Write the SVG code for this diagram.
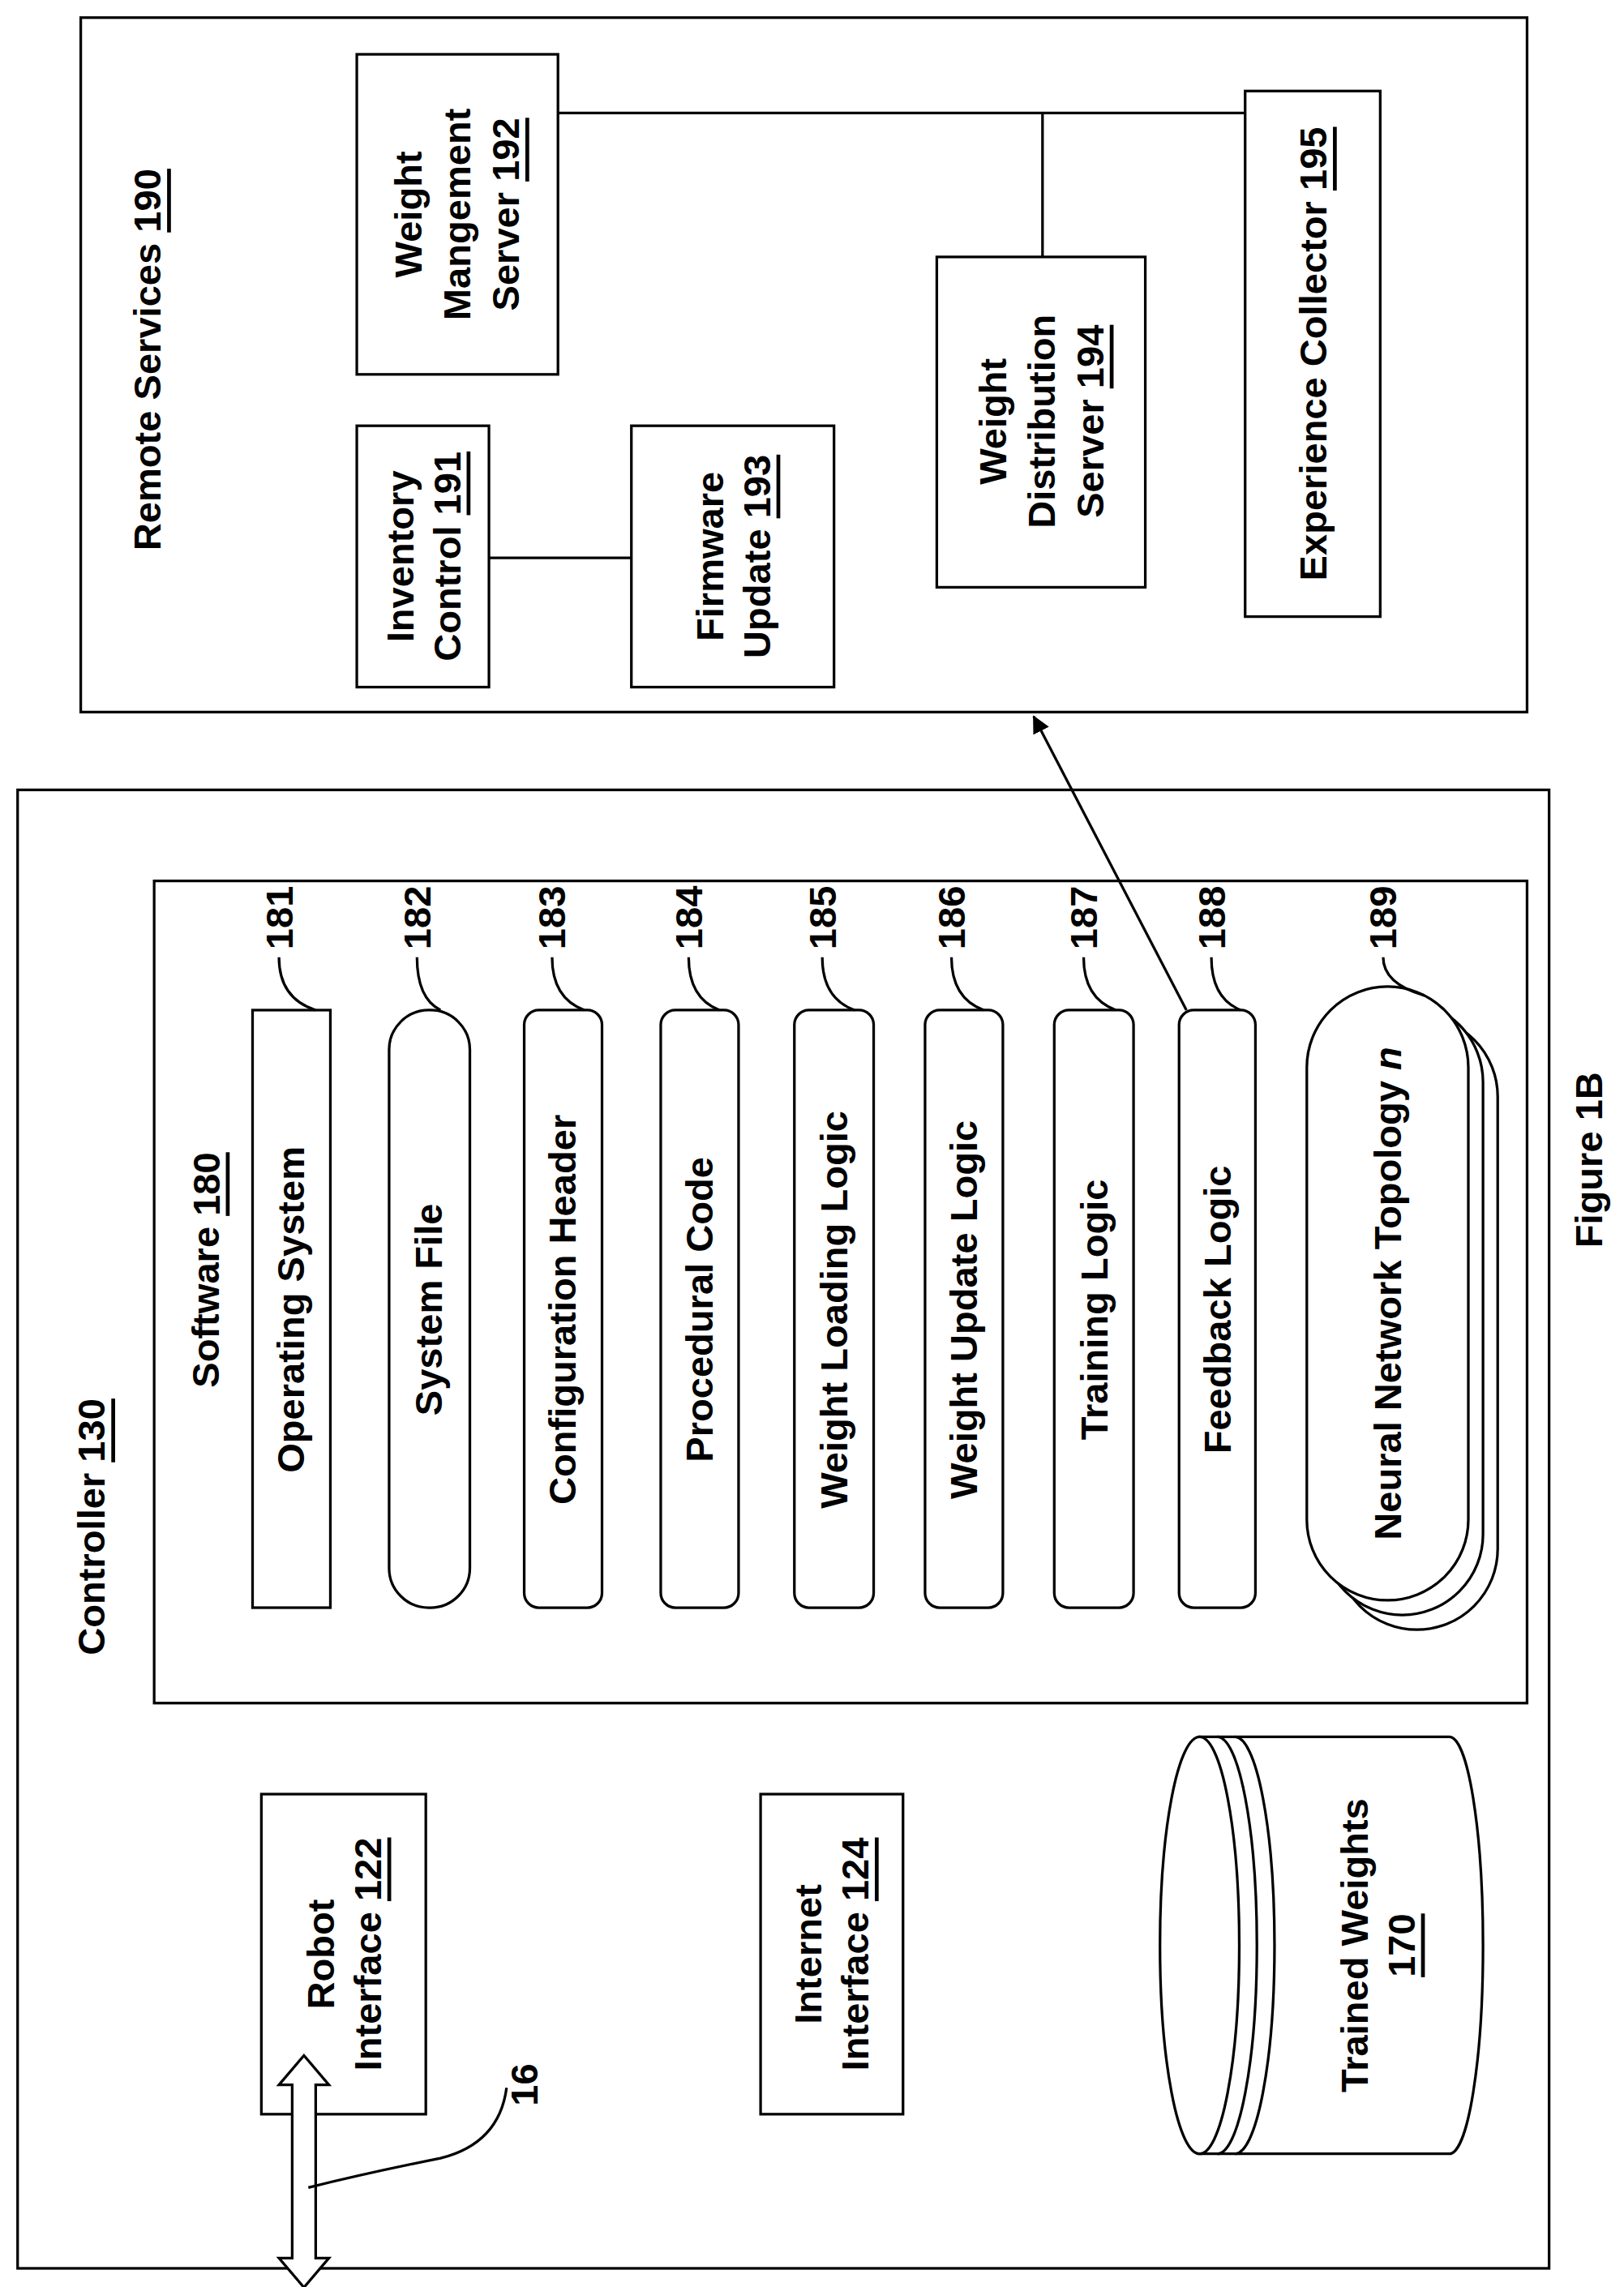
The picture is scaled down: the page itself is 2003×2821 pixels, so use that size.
<svg xmlns="http://www.w3.org/2000/svg" width="2003" height="2821" viewBox="0 0 2003 2821">
<style>
.b{fill:#fff;stroke:#000;stroke-width:1.8}
.l{fill:none;stroke:#000;stroke-width:1.8}
text{font-family:"Liberation Sans",Arial,sans-serif;font-size:26px;font-weight:bold;fill:#000;text-anchor:middle;dominant-baseline:central}
.u{text-decoration:underline}
</style>
<defs><marker id="ah" markerWidth="12" markerHeight="12" refX="11" refY="6" orient="auto" markerUnits="userSpaceOnUse"><path d="M0,0 L12,6 L0,12 Z"/></marker></defs>
<rect width="2003" height="2821" fill="#fff"/>
<g transform="scale(1.811)">
<g id="remote"><rect class="b" x="55" y="12" width="985" height="473"/>
<text transform="translate(100,245) rotate(-90)">Remote Services <tspan class="u">190</tspan></text></g>
<g id="n192"><rect class="b" x="243" y="37" width="137" height="218"/>
<text transform="translate(311,146) rotate(-90)"><tspan x="0" dy="-33">Weight</tspan><tspan x="0" dy="33">Mangement</tspan><tspan x="0" dy="33">Server <tspan class="u">192</tspan></tspan></text></g>
<g id="n191"><rect class="b" x="243" y="290" width="90" height="178"/>
<text transform="translate(288,379) rotate(-90)"><tspan x="0" dy="-16">Inventory</tspan><tspan x="0" dy="32">Control <tspan class="u">191</tspan></tspan></text></g>
<g id="n193"><rect class="b" x="430" y="290" width="138" height="178"/>
<text transform="translate(499,379) rotate(-90)"><tspan x="0" dy="-16">Firmware</tspan><tspan x="0" dy="32">Update <tspan class="u">193</tspan></tspan></text></g>
<g id="n194"><rect class="b" x="638" y="175" width="142" height="225"/>
<text transform="translate(709,287) rotate(-90)"><tspan x="0" dy="-33">Weight</tspan><tspan x="0" dy="33">Distribution</tspan><tspan x="0" dy="33">Server <tspan class="u">194</tspan></tspan></text></g>
<g id="n195"><rect class="b" x="848" y="62" width="92" height="358"/>
<text transform="translate(894,241) rotate(-90)">Experience Collector <tspan class="u">195</tspan></text></g>
<g id="controller"><rect class="b" x="12" y="538" width="1043" height="1007"/>
<text transform="translate(62,1040) rotate(-90)">Controller <tspan class="u">130</tspan></text></g>
<g id="software"><rect class="b" x="105" y="600" width="935" height="560"/>
<text transform="translate(140,865) rotate(-90)">Software <tspan class="u">180</tspan></text></g>
<g id="n181"><rect class="b" x="172" y="688" width="53" height="407"/><text transform="translate(198,892) rotate(-90)">Operating System</text></g>
<g id="n182"><rect class="b" x="265" y="688" width="55" height="407" rx="27"/><text transform="translate(292,892) rotate(-90)">System File</text></g>
<g id="n183"><rect class="b" x="357" y="688" width="53" height="407" rx="10"/><text transform="translate(383,892) rotate(-90)">Configuration Header</text></g>
<g id="n184"><rect class="b" x="450" y="688" width="53" height="407" rx="10"/><text transform="translate(476,892) rotate(-90)">Procedural Code</text></g>
<g id="n185"><rect class="b" x="541" y="688" width="54" height="407" rx="10"/><text transform="translate(568,892) rotate(-90)">Weight Loading Logic</text></g>
<g id="n186"><rect class="b" x="630" y="688" width="53" height="407" rx="10"/><text transform="translate(656,892) rotate(-90)">Weight Update Logic</text></g>
<g id="n187"><rect class="b" x="718" y="688" width="54" height="407" rx="10"/><text transform="translate(745,892) rotate(-90)">Training Logic</text></g>
<g id="n188"><rect class="b" x="803" y="688" width="52" height="407" rx="10"/><text transform="translate(829,892) rotate(-90)">Feedback Logic</text></g>
<g id="n189"><rect class="b" x="910" y="692" width="110" height="418" rx="55"/><rect class="b" x="900" y="682" width="110" height="418" rx="55"/><rect class="b" x="890" y="672" width="110" height="418" rx="55"/>
<text transform="translate(945,881) rotate(-90)">Neural Network Topology <tspan font-style="italic">n</tspan></text></g>
<g id="refs">
<text transform="translate(190,625) rotate(-90)">181</text><text transform="translate(284,625) rotate(-90)">182</text><text transform="translate(376,625) rotate(-90)">183</text><text transform="translate(469,625) rotate(-90)">184</text><text transform="translate(560,625) rotate(-90)">185</text><text transform="translate(648,625) rotate(-90)">186</text><text transform="translate(738,625) rotate(-90)">187</text><text transform="translate(825,625) rotate(-90)">188</text><text transform="translate(942,625) rotate(-90)">189</text>
<path class="l" d="M190,652 Q190,680 215,688 M284,652 Q284,680 300,688 M376,652 Q376,680 398,688 M469,652 Q469,680 490,688 M560,652 Q560,680 582,688 M648,652 Q648,680 670,688 M738,652 Q738,680 760,688 M825,652 Q825,680 845,688 M942,652 Q942,670 970,678"/>
</g>
<g id="n122"><rect class="b" x="178" y="1222" width="112" height="218"/>
<text transform="translate(234,1331) rotate(-90)"><tspan x="0" dy="-16">Robot</tspan><tspan x="0" dy="32">Interface <tspan class="u">122</tspan></tspan></text></g>
<g id="n124"><rect class="b" x="518" y="1222" width="97" height="218"/>
<text transform="translate(566,1331) rotate(-90)"><tspan x="0" dy="-16">Internet</tspan><tspan x="0" dy="32">Interface <tspan class="u">124</tspan></tspan></text></g>
<g id="n170">
<path class="b" d="M817,1183 L987,1183 A23,142 0 0 1 987,1467 L817,1467 Z"/>
<path class="l" d="M841,1183 A27,142 0 0 1 841,1467 M829,1183 A27,142 0 0 1 829,1467"/>
<ellipse class="b" cx="817" cy="1325" rx="27" ry="142"/>
<text transform="translate(938,1325) rotate(-90)" font-size="25"><tspan x="0" dy="-16">Trained Weights</tspan><tspan x="0" dy="32" class="u">170</tspan></text></g>
<g id="port16"><path class="b" d="M190,1420 L207,1400 L224,1420 L215,1420 L215,1538 L224,1538 L207,1558 L190,1538 L199,1538 L199,1420 Z"/>
<text transform="translate(357,1420) rotate(-90)">16</text>
<path class="l" d="M345,1422 Q340,1460 300,1470 Q250,1480 210,1490"/></g>
<g id="connectors">
<path class="l" d="M333,380 H430 M380,77 H848 M710,77 V175"/>
<path class="l" d="M808,688 L704,488" marker-end="url(#ah)"/>
</g>
<text transform="translate(1082,790) rotate(-90)" font-size="30">Figure 1B</text>
</g>
</svg>
